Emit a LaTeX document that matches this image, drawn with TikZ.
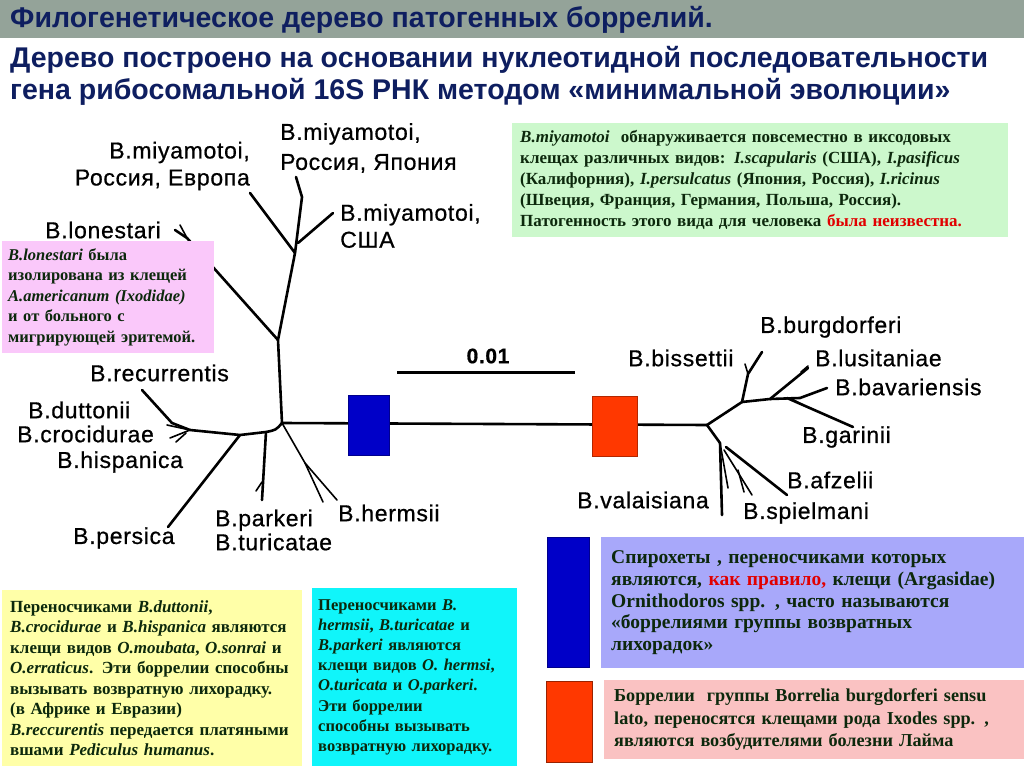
\documentclass[tikz,border=0pt]{standalone}
\usepackage{fontspec}
\usepackage{xcolor}
\usepackage{tikz}
\setmainfont{Liberation Serif}
\newfontfamily\treefont{Liberation Sans}[LetterSpace=3,FakeBold=0.7]
\newfontfamily\titlefont{Liberation Sans}

\definecolor{titleband}{RGB}{148,163,153}
\definecolor{titleblue}{RGB}{14,30,96}
\definecolor{miyagreen}{RGB}{204,248,204}
\definecolor{lonepink}{RGB}{250,200,250}
\definecolor{vectoryellow}{RGB}{255,255,168}
\definecolor{vectorcyan}{RGB}{16,245,250}
\definecolor{relapselilac}{RGB}{168,168,250}
\definecolor{lymepink}{RGB}{250,194,194}
\definecolor{relapseblue}{RGB}{0,0,200}
\definecolor{lymered}{RGB}{255,56,0}
\definecolor{boxtext}{RGB}{12,40,12}
\definecolor{warnred}{RGB}{225,0,0}

\begin{document}
\begin{tikzpicture}%
                [x=1pt, y=-1pt,
                branch/.style={line width=2.6pt, line cap=round, line join=round},
                twig/.style={line width=1.6pt, line cap=round},
                taxon/.style={inner sep=0pt, font=\treefont\fontsize{23}{27}\selectfont},
                infobox/.style={anchor=north west, inner xsep=9pt, inner ysep=0pt, align=left, text=boxtext},
                headline/.style={anchor=west, inner sep=0pt, text=titleblue, font=\titlefont\bfseries\fontsize{28.5}{30}\selectfont}]
            \useasboundingbox (0,0) rectangle (1024,767);

            %% Title
            \fill[titleband] (0,0) rectangle (1024,38);
            \node[headline] (title1) at (10,20) {Филогенетическое дерево патогенных боррелий.};
            \node[headline] (title2) at (10,60) {Дерево построено на основании нуклеотидной последовательности};
            \node[headline] (title3) at (10,92) {гена рибосомальной 16S РНК методом «минимальной эволюции»};

            %% Left clade (relapsing fever group)
            \coordinate (hubL) at (282,423);
            \coordinate (stemL) at (278,340);
            \coordinate (forkM) at (295,253);
            \coordinate (forkD) at (190,430);
            \coordinate (forkP) at (240,435);
            \coordinate (forkK) at (266,432);
            \coordinate (forkH) at (305,463);
            \draw[branch] (hubL) -- (stemL) -- (forkM) -- (302,197) -- (296,177);
            \draw[branch] (forkM) -- (250,193);
            \draw[branch] (298,243) -- (333,213);
            \draw[branch] (stemL) -- (187,238) -- (175,230);
            \draw[twig] (187,238) -- (180,225);
            \draw[branch] (hubL) .. controls (276,430) .. (266,432) -- (forkP) -- (forkD);
            \draw[branch] (forkD) -- (172,423) -- (142,390);
            \draw[twig] (forkD) -- (167,425);
            \draw[twig] (forkD) -- (170,438);
            \draw[twig] (186,433) -- (176,442);
            \draw[branch] (forkP) -- (168,527);
            \draw[branch] (forkK) -- (262,500);
            \draw[twig] (262,482) -- (256,491);
            \draw[twig] (hubL) -- (forkH) -- (337,500);
            \draw[twig] (forkH) -- (323,502);

            %% Trunk, clade boxes and scale
            \coordinate (hubR) at (707,425);
            \draw[branch] (hubL) -- (hubR);
            \node[draw=relapseblue!70!black, fill=relapseblue, minimum width=41pt, minimum height=60pt, inner sep=0pt] (boxA) at (368.5,425) {};
            \node[draw=lymered!70!black, fill=lymered, minimum width=45pt, minimum height=60pt, inner sep=0pt] (boxB) at (614.5,426) {};
            \coordinate (scaleA) at (397,372);
            \coordinate (scaleB) at (575,372);
            \draw[line width=3pt] (scaleA) -- (scaleB);
            \node[taxon, font=\treefont\bfseries\fontsize{21}{24}\selectfont] (scale) at (488,356) {0.01};

            %% Right clade (Lyme group)
            \coordinate (forkU) at (742,402);
            \coordinate (forkB) at (748,374);
            \coordinate (forkG) at (770,399);
            \coordinate (forkV) at (720,443);
            \draw[branch] (hubR) -- (forkU) -- (forkB) -- (762,352);
            \draw[twig] (forkB) -- (745,364);
            \draw[branch] (forkU) -- (forkG) -- (808,368);
            \draw[twig] (801,372) -- (808,366);
            \draw[branch] (forkG) -- (800,398) -- (827,388);
            \draw[branch] (787,398) -- (853,427);
            \draw[twig] (790,398) -- (803,405);
            \draw[branch] (hubR) -- (forkV) -- (722,515);
            \draw[twig] (forkV) -- (728,488);
            \draw[twig] (724,450) -- (752,495);
            \draw[twig] (738,470) -- (744,492);
            \draw[branch] (726,447) -- (787,495);

            %% Taxon labels
            \node[taxon, anchor=east, align=right] (miyaEU) at (250,166) {B.miyamotoi,\\Россия, Европа};
            \node[taxon, anchor=west, align=left, font=\treefont\fontsize{23}{30}\selectfont] (miyaJP) at (280,148) {B.miyamotoi,\\Россия, Япония};
            \node[taxon, anchor=west, align=left] (miyaUS) at (340,226) {B.miyamotoi,\\США};
            \node[taxon, anchor=west] (lonestari) at (45,230) {B.lonestari};
            \node[taxon, anchor=west] (recurrentis) at (90,373) {B.recurrentis};
            \node[taxon, anchor=west] (duttonii) at (28,410) {B.duttonii};
            \node[taxon, anchor=west] (crocidurae) at (17,434) {B.crocidurae};
            \node[taxon, anchor=west] (hispanica) at (57,462) {B.hispanica};
            \node[taxon, anchor=west] (persica) at (73,538) {B.persica};
            \node[taxon, anchor=west, align=left, font=\treefont\fontsize{23}{24}\selectfont] (parkeri) at (215,530) {B.parkeri\\B.turicatae};
            \node[taxon, anchor=west] (hermsii) at (338,513) {B.hermsii};
            \node[taxon, anchor=west] (burgdorferi) at (760,327) {B.burgdorferi};
            \node[taxon, anchor=west] (bissettii) at (628,358) {B.bissettii};
            \node[taxon, anchor=west] (lusitaniae) at (815,358) {B.lusitaniae};
            \node[taxon, anchor=west] (bavariensis) at (835,387) {B.bavariensis};
            \node[taxon, anchor=west] (garinii) at (802,437) {B.garinii};
            \node[taxon, anchor=west] (afzelii) at (787,480) {B.afzelii};
            \node[taxon, anchor=west] (valaisiana) at (577,500) {B.valaisiana};
            \node[taxon, anchor=west] (spielmani) at (743,513) {B.spielmani};

            %% Info boxes
            \node[infobox, fill=miyagreen, minimum width=496pt, minimum height=114pt, text width=480pt, inner xsep=8pt,
                  font=\bfseries\fontsize{17}{21}\selectfont] (miyainfo) at (512,123)
                  {\textit{B.miyamotoi}\ \ обнаруживается повсеместно в иксодовых\\
                   клещах различных видов: \textit{I.scapularis} (США), \textit{I.pasificus}\\
                   (Калифорния), \textit{I.persulcatus} (Япония, Россия), \textit{I.ricinus}\\
                   (Швеция, Франция, Германия, Польша, Россия).\\
                   Патогенность этого вида для человека \textcolor{warnred}{была неизвестна.}};
            \node[infobox, fill=lonepink, minimum width=212pt, minimum height=112pt, text width=200pt, inner xsep=6pt,
                  font=\bfseries\fontsize{16.5}{20.5}\selectfont] (loneinfo) at (2,241)
                  {\textit{B.lonestari} была\\
                   изолирована из клещей\\
                   \textit{A.americanum (Ixodidae)}\\
                   и от больного с\\
                   мигрирующей эритемой.};
            \node[infobox, fill=vectoryellow, minimum width=300pt, minimum height=176pt, text width=284pt, inner xsep=8pt,
                  font=\bfseries\fontsize{17}{20.5}\selectfont] (softinfo) at (2,590)
                  {Переносчиками \textit{B.duttonii},\\
                   \textit{B.crocidurae} и \textit{B.hispanica} являются\\
                   клещи видов \textit{O.moubata}, \textit{O.sonrai} и\\
                   \textit{O.erraticus}. Эти боррелии способны\\
                   вызывать возвратную лихорадку.\\
                   (в Африке и Евразии)\\
                   \textit{B.reccurentis} передается платяными\\
                   вшами \textit{Pediculus humanus}.};
            \node[infobox, fill=vectorcyan, minimum width=205pt, minimum height=178pt, text width=193pt, inner xsep=6pt,
                  font=\bfseries\fontsize{16.5}{20.2}\selectfont] (newinfo) at (312,588)
                  {Переносчиками \textit{B.}\\
                   \textit{hermsii}, \textit{B.turicatae} и\\
                   \textit{B.parkeri} являются\\
                   клещи видов \textit{O. hermsi},\\
                   \textit{O.turicata} и \textit{O.parkeri}.\\
                   Эти боррелии\\
                   способны вызывать\\
                   возвратную лихорадку.};

            %% Legend
            \node[draw=relapseblue!70!black, fill=relapseblue, minimum width=42pt, minimum height=130pt, inner sep=0pt, anchor=north west] (keyA) at (547,537) {};
            \node[draw=lymered!60!black, fill=lymered, minimum width=46pt, minimum height=81pt, inner sep=0pt, anchor=north west] (keyB) at (546,681) {};
            \node[infobox, fill=relapselilac, minimum width=417pt, minimum height=131pt, text width=403pt, inner xsep=10pt,
                  font=\bfseries\fontsize{19.5}{21.8}\selectfont] (relapseinfo) at (601,537)
                  {Спирохеты , переносчиками которых\\
                   являются, \textcolor{warnred}{как правило,} клещи (Argasidae)\\
                   Ornithodoros spp. , часто называются\\
                   «боррелиями группы возвратных\\
                   лихорадок»};
            \node[infobox, fill=lymepink, minimum width=416pt, minimum height=79pt, text width=402pt, inner xsep=10pt,
                  font=\bfseries\fontsize{18.2}{22.5}\selectfont] (lymeinfo) at (604,680)
                  {Боррелии\ \ группы Borrelia burgdorferi sensu\\
                   lato, переносятся клещами рода Ixodes spp. ,\\
                   являются возбудителями болезни Лайма};
            %%
            %%
            \end{tikzpicture}
\end{document}
